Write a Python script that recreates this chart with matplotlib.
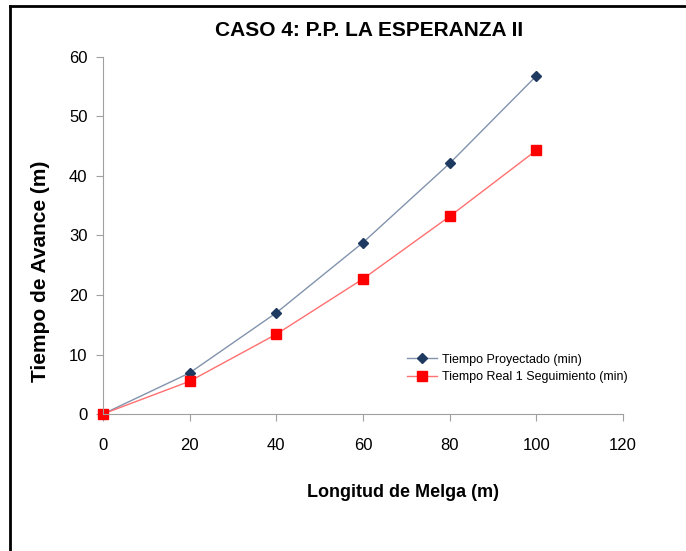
import matplotlib.pyplot as plt
from matplotlib.lines import Line2D

# data
longitud = [0, 20, 40, 60, 80, 100]
tiempo_proyectado = [0, 6.9, 17.0, 28.8, 42.1, 56.8]
tiempo_real = [0, 5.5, 13.4, 22.7, 33.2, 44.3]

x_ticks = [0, 20, 40, 60, 80, 100, 120]
y_ticks = [0, 10, 20, 30, 40, 50, 60]

plt.rcParams['font.family'] = ['Liberation Sans', 'DejaVu Sans']

fig = plt.figure(figsize=(6.86, 5.51), dpi=100)
ax = fig.add_axes([0.150, 0.2486, 0.758, 0.648])

ax.plot(longitud, tiempo_proyectado, color='#8293ad', lw=1.0, marker='D', ms=5.5,
        mfc='#1f3a60', mec='#1f3a60', label='Tiempo Proyectado (min)', clip_on=False)
ax.plot(longitud, tiempo_real, color='#ff7070', lw=1.0, marker='s', ms=7,
        mfc='#ff0000', mec='#ff0000', label='Tiempo Real 1 Seguimiento (min)', clip_on=False)

ax.set_xlim(0, 120)
ax.set_ylim(0, 60)
ax.set_xticks(x_ticks)
ax.set_yticks(y_ticks)
ax.tick_params(axis='both', direction='out', length=5, color='#a0a0a0',
               labelsize=12, pad=6)
ax.tick_params(axis='x', pad=12)
for s in ['top', 'right']:
    ax.spines[s].set_visible(False)
for s in ['left', 'bottom']:
    ax.spines[s].set_color('#a0a0a0')

ax.set_xlabel('Longitud de Melga (m)', fontsize=13, fontweight='bold')
ax.xaxis.set_label_coords(0.577, -0.197)
ax.set_ylabel('Tiempo de Avance (m)', fontsize=15, fontweight='bold')
ax.yaxis.set_label_coords(-0.102, 0.40)
fig.text(0.538, 0.945, 'CASO 4: P.P. LA ESPERANZA II', ha='center', va='center',
         fontsize=15, fontweight='bold')

ax.legend(loc='upper left', bbox_to_anchor=(0.575, 0.183), frameon=False,
          fontsize=9, handlelength=2.4, handletextpad=0.4, labelspacing=0.45,
          borderaxespad=0)

# outer frame (left and top edges visible)
fig.add_artist(Line2D([10 / 686, 10 / 686], [0, 1 - 6 / 551], color='black', lw=2,
                      transform=fig.transFigure))
fig.add_artist(Line2D([10 / 686, 1], [1 - 6 / 551, 1 - 6 / 551], color='black', lw=2,
                      transform=fig.transFigure))

fig.savefig('out.png', dpi=100)
